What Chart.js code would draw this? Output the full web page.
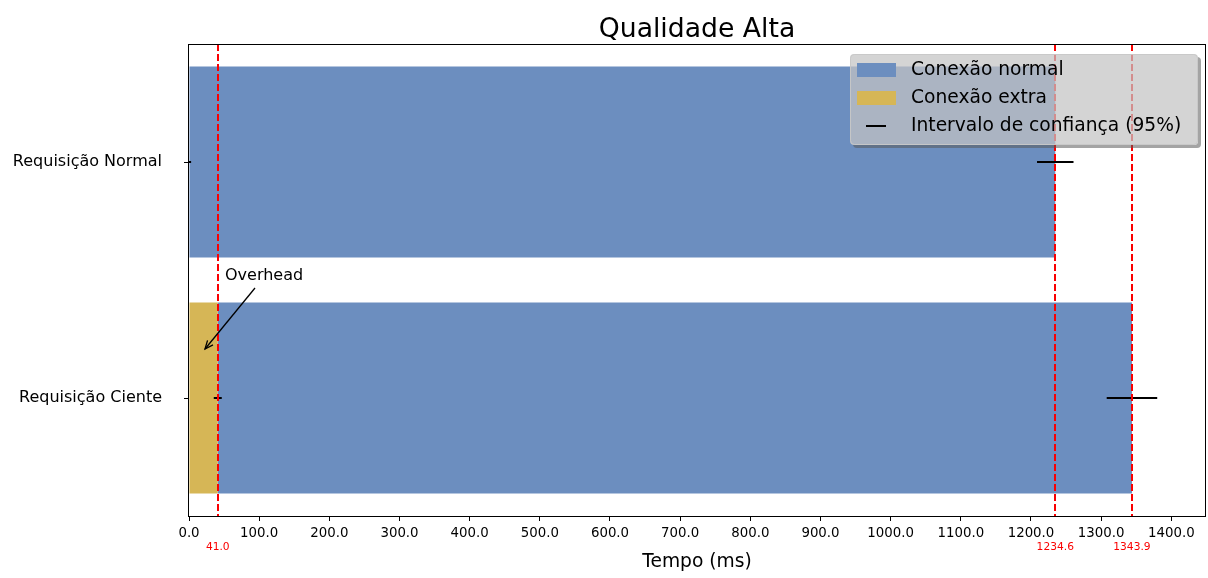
<!DOCTYPE html>
<html>
<head>
<meta charset="utf-8">
<script src="https://cdn.jsdelivr.net/npm/chart.js@4/dist/chart.umd.min.js"></script>
<style>
html,body{margin:0;padding:0;background:#fff;}
canvas{display:block;}
</style>
</head>
<body>
<canvas id="c" width="1208" height="578"></canvas>
<script>
const categories = ['Requisição Normal', 'Requisição Ciente'];
const extraValues = [0, 41.0];
const normalValues = [1234.6, 1302.9];
const extraErr = [3, 5.7];
const totalErr = [26, 36];
const markerValues = [41.0, 1234.6, 1343.9];
const xTickValues = [0,100,200,300,400,500,600,700,800,900,1000,1100,1200,1300,1400];
const xMax = 1448;

const BLUE = 'rgb(108,142,191)';
const GOLD = 'rgb(214,182,86)';
const FONT = '"DejaVu Sans", sans-serif';

function roundRectPath(ctx, x, y, w, h, r) {
  ctx.moveTo(x + r, y); ctx.lineTo(x + w - r, y); ctx.quadraticCurveTo(x + w, y, x + w, y + r);
  ctx.lineTo(x + w, y + h - r); ctx.quadraticCurveTo(x + w, y + h, x + w - r, y + h);
  ctx.lineTo(x + r, y + h); ctx.quadraticCurveTo(x, y + h, x, y + h - r);
  ctx.lineTo(x, y + r); ctx.quadraticCurveTo(x, y, x + r, y); ctx.closePath();
}
function roundRect(ctx, x, y, w, h, r) { ctx.beginPath(); roundRectPath(ctx, x, y, w, h, r); }

const overlay = {
  id: 'overlay',
  afterDatasetsDraw(chart) {
    const ctx = chart.ctx, x = chart.scales.x, y = chart.scales.y, a = chart.chartArea;
    ctx.save();
    ctx.beginPath(); ctx.rect(a.left, a.top, a.right - a.left, a.bottom - a.top); ctx.clip();
    // error bars
    ctx.strokeStyle = '#000'; ctx.lineWidth = 2;
    categories.forEach((c, i) => {
      const yc = y.getPixelForValue(i);
      const e = extraValues[i];
      ctx.beginPath();
      ctx.moveTo(x.getPixelForValue(e - extraErr[i]), yc);
      ctx.lineTo(x.getPixelForValue(e + extraErr[i]), yc);
      ctx.stroke();
      const t = extraValues[i] + normalValues[i];
      ctx.beginPath();
      ctx.moveTo(x.getPixelForValue(t - totalErr[i]), yc);
      ctx.lineTo(x.getPixelForValue(t + totalErr[i]), yc);
      ctx.stroke();
    });
    // dashed red lines
    ctx.strokeStyle = 'rgb(250,0,0)'; ctx.lineWidth = 2; ctx.setLineDash([7, 3]);
    markerValues.forEach(v => {
      const px = Math.round(x.getPixelForValue(v));
      ctx.beginPath(); ctx.moveTo(px, a.top); ctx.lineTo(px, a.bottom); ctx.stroke();
    });
    ctx.restore();

    ctx.save();
    // marker labels
    ctx.fillStyle = 'rgb(250,0,0)'; ctx.font = '10.67px ' + FONT;
    ctx.textAlign = 'center'; ctx.textBaseline = 'middle';
    markerValues.forEach(v => ctx.fillText(v.toFixed(1), x.getPixelForValue(v), 547));

    // annotation
    ctx.fillStyle = '#000'; ctx.font = '16px ' + FONT; ctx.textAlign = 'left'; ctx.textBaseline = 'alphabetic';
    ctx.fillText('Overhead', 225, 280);
    const x1 = 255, y1 = 288, x2 = 205, y2 = 349;
    ctx.strokeStyle = '#000'; ctx.lineWidth = 1.3;
    ctx.beginPath(); ctx.moveTo(x1, y1); ctx.lineTo(x2, y2); ctx.stroke();
    const ang = Math.atan2(y2 - y1, x2 - x1);
    ctx.beginPath();
    ctx.moveTo(x2 - 9 * Math.cos(ang - 0.4), y2 - 9 * Math.sin(ang - 0.4));
    ctx.lineTo(x2, y2);
    ctx.lineTo(x2 - 9 * Math.cos(ang + 0.4), y2 - 9 * Math.sin(ang + 0.4));
    ctx.stroke();

    // frame
    ctx.strokeStyle = '#000'; ctx.lineWidth = 1;
    ctx.strokeRect(Math.round(a.left) - 0.5, Math.round(a.top) + 0.5, Math.round(a.right - a.left) + 1, Math.round(a.bottom - a.top));

    // title
    ctx.font = '26.67px ' + FONT; ctx.textAlign = 'center'; ctx.textBaseline = 'alphabetic';
    ctx.fillText('Qualidade Alta', (a.left + a.right) / 2, 37);

    // x axis title
    ctx.font = '18.67px ' + FONT;
    ctx.fillText('Tempo (ms)', (a.left + a.right) / 2, 567);

    // legend
    const lx = 850, ly = 54, lw = 348, lh = 91;
    ctx.save();
    ctx.beginPath();
    ctx.rect(0, 0, 1208, 578);
    roundRectPath(ctx, lx, ly, lw, lh, 4);
    ctx.clip('evenodd');
    ctx.fillStyle = 'rgba(90,90,90,0.55)';
    roundRect(ctx, lx + 3, ly + 3, lw, lh, 4); ctx.fill();
    ctx.restore();
    ctx.fillStyle = 'rgba(195,195,195,0.72)';
    roundRect(ctx, lx, ly, lw, lh, 4); ctx.fill();
    ctx.strokeStyle = 'rgba(200,200,200,0.9)'; ctx.lineWidth = 1;
    roundRect(ctx, lx + 0.5, ly + 0.5, lw - 1, lh - 1, 4); ctx.stroke();
    ctx.font = '18.67px ' + FONT; ctx.textAlign = 'left'; ctx.textBaseline = 'middle';
    ctx.fillStyle = BLUE; ctx.fillRect(857, 63, 39, 14);
    ctx.fillStyle = GOLD; ctx.fillRect(857, 91, 39, 14);
    ctx.strokeStyle = '#000'; ctx.lineWidth = 2;
    ctx.beginPath(); ctx.moveTo(866, 126); ctx.lineTo(886, 126); ctx.stroke();
    ctx.fillStyle = '#000';
    ctx.fillText('Conexão normal', 911, 70);
    ctx.fillText('Conexão extra', 911, 98);
    ctx.fillText('Intervalo de confiança (95%)', 911, 126);
    ctx.restore();
  }
};

new Chart(document.getElementById('c'), {
  type: 'bar',
  data: {
    labels: categories,
    datasets: [
      { label: 'Conexão extra', data: extraValues, backgroundColor: GOLD, borderWidth: 0 },
      { label: 'Conexão normal', data: normalValues, backgroundColor: BLUE, borderWidth: 0 }
    ]
  },
  options: {
    indexAxis: 'y',
    responsive: false,
    animation: false,
    layout: { padding: { left: 0, right: 3, top: 44, bottom: 0 } },
    plugins: { legend: { display: false }, tooltip: { enabled: false }, title: { display: false } },
    datasets: { bar: { barPercentage: 0.81, categoryPercentage: 1.0 } },
    scales: {
      x: {
        type: 'linear', stacked: true, min: 0, max: xMax,
        afterBuildTicks(s) { s.ticks = xTickValues.map(v => ({ value: v })); },
        afterFit(s) { s.height = 62; },
        ticks: { color: '#000', font: { family: FONT, size: 13.33 }, padding: 5, maxRotation: 0,
                 callback: v => Number(v).toFixed(1) },
        grid: { drawOnChartArea: false, drawTicks: true, tickLength: 5, color: '#000' },
        border: { display: false },
        title: { display: false }
      },
      y: {
        stacked: true,
        afterFit(s) { s.width = 189; },
        ticks: { color: '#000', font: { family: FONT, size: 16 }, padding: 22 },
        grid: { drawOnChartArea: false, drawTicks: true, tickLength: 5, color: '#000', offset: false },
        border: { display: false }
      }
    }
  },
  plugins: [overlay]
});
</script>
</body>
</html>
